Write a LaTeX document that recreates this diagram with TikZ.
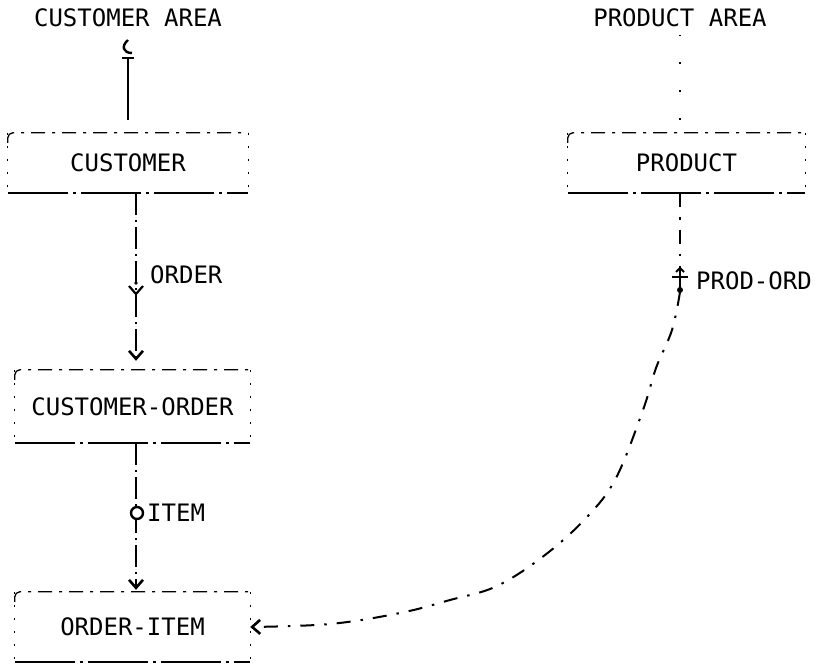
\documentclass[tikz,border=0pt]{standalone}
\usepackage{fontspec}
\setmonofont{DejaVu Sans Mono}
\usetikzlibrary{arrows.meta}
\begin{document}
\begin{tikzpicture}[x=1pt,y=-1pt,
  lbl/.style={font=\ttfamily\fontsize{24}{28}\selectfont, inner sep=0pt, text height=17pt, text depth=0pt},
  recbox/.style={lbl},
  topline/.style={line width=1.3pt, dash pattern=on 14pt off 7pt on 3pt off 7pt},
  sideline/.style={line width=1.2pt, dash pattern=on 2pt off 11pt},
  bottomline/.style={line width=2.2pt, dash pattern=on 60pt off 5pt on 3pt off 5pt},
  setline/.style={line width=2pt, dash pattern=on 22pt off 5pt on 2pt off 5pt},
  curveline/.style={line width=2pt, dash pattern=on 14pt off 10pt on 2.5pt off 10pt},
  arealine/.style={line width=2.2pt},
  tipv/.style={-{Straight Barb[length=8pt,width=14pt,line width=2.6pt]}}]
\useasboundingbox (0,0) rectangle (820,667);

% area labels
\node[lbl] (custarea) at (128,18) {CUSTOMER AREA};
\node[lbl] (prodarea) at (680,18) {PRODUCT AREA};

% record boxes
\node[recbox, minimum width=240pt, minimum height=60pt] (cust) at (128,163) {CUSTOMER};
\node[recbox, minimum width=237pt, minimum height=60pt] (prod) at (686.5,163) {PRODUCT};
\node[recbox, minimum width=235pt, minimum height=73pt] (co) at (132.5,406.5) {CUSTOMER-ORDER};
\node[recbox, minimum width=235pt, minimum height=70pt] (oi) at (132.5,627) {ORDER-ITEM};
\foreach \b in {cust,prod,co,oi}{
  \draw[topline, rounded corners=5pt] ([yshift=-10pt]\b.north west) -- (\b.north west) -- (\b.north east);
  \draw[sideline] (\b.north west) -- (\b.south west);
  \draw[sideline] (\b.north east) -- (\b.south east);
  \draw[bottomline] (\b.south west) -- (\b.south east);
}

% set labels
\node[lbl, anchor=west] (lorder) at (150,275) {ORDER};
\node[lbl, anchor=west] (litem) at (147,513) {ITEM};
\node[lbl, anchor=west] (lprodord) at (696,281) {PROD-ORD};

% x positions of set lines
\coordinate (xo) at (136,0);
\coordinate (xp) at (680,0);

% customer area link
\coordinate (catop) at (128,58);
\draw[arealine] ([yshift=13pt]cust.north) -- (catop);
\draw[arealine] (122,58) -- (134,58);
\draw[line width=2.4pt] (132,53) .. controls (123,53) and (121,46) .. (128,40);

% product area link
\draw[line width=1.8pt, dash pattern=on 1.8pt off 26pt] ([yshift=13pt]prod.north -| xp) -- (prodarea.south -| xp);

% ORDER set
\draw[setline, tipv] (cust.south -| xo) -- ([yshift=9pt]co.north -| xo);
\fill (136,283) circle (1.8pt);
\draw[line width=2.2pt] (129,286) -- (136,294) -- (143,286);

% ITEM set
\draw[setline, tipv] (co.south -| xo) -- ([yshift=2pt]oi.north -| xo);
\draw[line width=2.4pt, fill=white] (137,513) circle (6pt);

% PROD-ORD set
\coordinate (pobar) at (680,277);
\draw[curveline] (prod.south -| xp) -- (pobar);
\draw[line width=2.2pt] (672,277) -- (688,277);
\draw[line width=1.8pt] (676,272) -- (680,268) -- (684,272);
\draw[line width=2.4pt] (680,270) -- (680,292);
\fill (680,290) circle (3pt);
\coordinate (pobot) at (680,292);
\draw[curveline, tipv] plot[smooth, tension=0.6] coordinates {(pobot) (672,330) (656,368) (643,410) (616,478) (587,517) (545,555) (497,586) (450,600) (400,613) (330,624) (oi.east)};
\end{tikzpicture}
\end{document}
